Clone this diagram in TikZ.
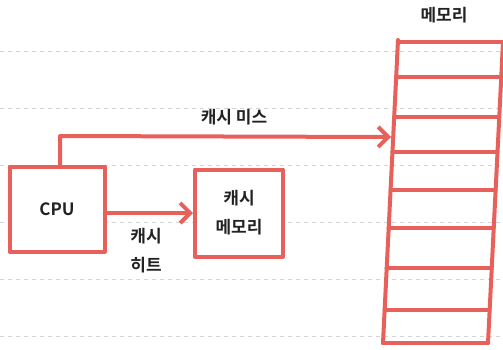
\documentclass[tikz,border=0pt]{standalone}
\usepackage{fontspec}
\newfontfamily\kfont{Noto Sans CJK KR}[BoldFont={* Bold}]
\usetikzlibrary{arrows.meta}
\definecolor{redline}{HTML}{E8605A}
\definecolor{gridc}{HTML}{D4D4D4}
\definecolor{txt}{HTML}{222222}
\tikzset{
  grid/.style={gridc, line width=0.8pt, dash pattern=on 4pt off 4pt},
  boxst/.style={draw=redline, line width=4pt, fill=white, line join=round},
  redl/.style={redline, line width=4pt, line cap=round, line join=round},
  arr/.style={redl, -{Straight Barb[length=10pt,width=20pt,line width=4pt]}},
  lbl/.style={font=\kfont\bfseries\fontsize{17}{29}\selectfont, text=txt, align=center},
}
\begin{document}
\begin{tikzpicture}[x=1pt,y=-1pt]
\useasboundingbox (0,0) rectangle (503,349);
\foreach \yy in {51,108,165,222,279,336}
  \draw[grid] (0,\yy) -- (503,\yy);
% memory
\draw[redl] (398,40) -- (383,343);
\draw[redl] (503,42) -- (488,343);
\foreach \ya in {42,77,117,152,190,228,268,310,343}
  \draw[redl] (398-\ya*0.05+2,\ya) -- (503-\ya*0.05+2,\ya);
\node[lbl] (memlbl) at (444,15) {메모리};
% CPU
\node[boxst, minimum width=95pt, minimum height=85pt] (cpu) at (57,209) {};
\node[lbl] at (cpu) {CPU};
% cache
\node[boxst, minimum width=88pt, minimum height=87pt] (cache) at (239,213) {};
\node[lbl] at (cache) {캐시\\메모리};
% cache hit
\draw[arr] (cpu.east |- 0,213) -- (cache.west |- 0,213);
\node[lbl] (hit) at (146,251) {캐시\\히트};
% cache miss
\coordinate (m1) at (60,166.5);
\coordinate (m2) at (60,136);
\coordinate (m3) at (391,137);
\draw[arr] (m1) -- (m2) -- (m3);
\node[lbl] (miss) at (234,117) {캐시 미스};
\end{tikzpicture}
\end{document}
